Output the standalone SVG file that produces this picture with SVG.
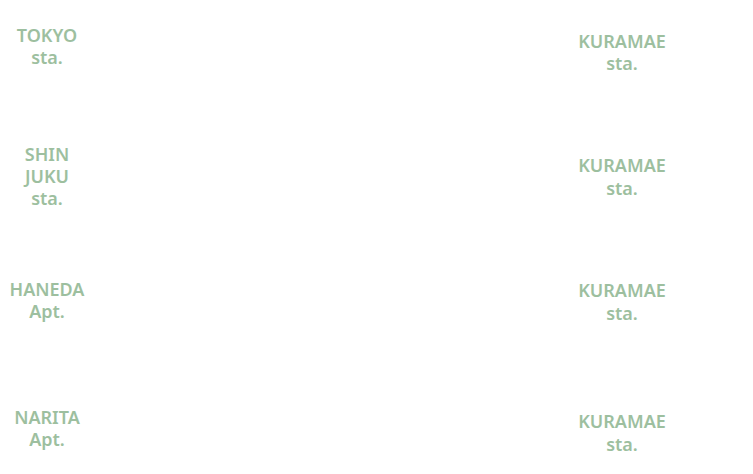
<svg xmlns="http://www.w3.org/2000/svg" width="753" height="474" viewBox="0 0 753 474">
<style>
text{font-family:"Noto Sans","Open Sans",sans-serif;font-weight:600;font-size:18px;fill:#9dbf9f;text-anchor:middle}
</style>
<rect width="753" height="474" fill="#ffffff"/>
<g id="tokyo"><text x="47" y="42">TOKYO</text><text x="47" y="64">sta.</text></g>
<g id="shinjuku"><text x="47" y="161">SHIN</text><text x="47" y="183">JUKU</text><text x="47" y="205">sta.</text></g>
<g id="haneda"><text x="47" y="296">HANEDA</text><text x="47" y="318">Apt.</text></g>
<g id="narita"><text x="47" y="424">NARITA</text><text x="47" y="446">Apt.</text></g>
<g id="kuramae1"><text x="622" y="48">KURAMAE</text><text x="622" y="70">sta.</text></g>
<g id="kuramae2"><text x="622" y="172">KURAMAE</text><text x="622" y="195">sta.</text></g>
<g id="kuramae3"><text x="622" y="297">KURAMAE</text><text x="622" y="320">sta.</text></g>
<g id="kuramae4"><text x="622" y="428">KURAMAE</text><text x="622" y="451">sta.</text></g>
<g id="connectors"></g>
</svg>
